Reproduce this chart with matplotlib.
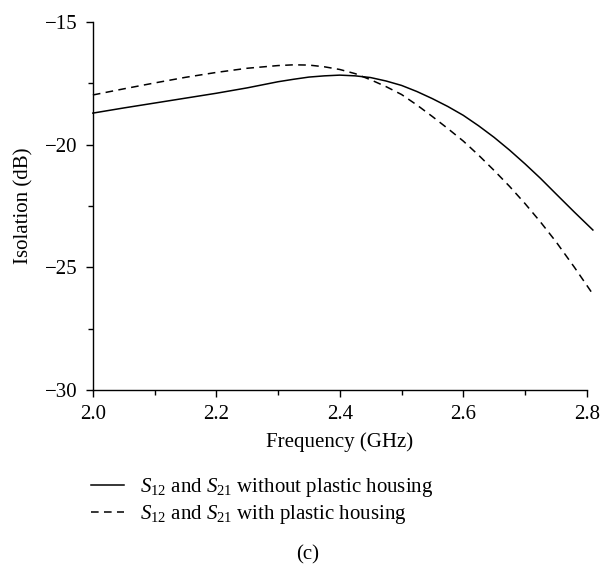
import matplotlib.pyplot as plt
from matplotlib.ticker import MultipleLocator
from matplotlib.lines import Line2D

plt.rcParams['font.family'] = ['Liberation Serif', 'DejaVu Serif']
plt.rcParams['mathtext.fontset'] = 'custom'
plt.rcParams['mathtext.rm'] = 'Liberation Serif'
plt.rcParams['mathtext.it'] = 'Liberation Serif:italic'

freq = [2.00, 2.05, 2.10, 2.15, 2.20, 2.25, 2.30, 2.325, 2.35, 2.375, 2.40, 2.425, 2.45,
        2.475, 2.50, 2.525, 2.55, 2.575, 2.60, 2.625, 2.65, 2.675, 2.70, 2.725, 2.75,
        2.78, 2.81]
# without plastic housing
s_without = [-18.71, -18.50, -18.30, -18.10, -17.90, -17.68, -17.43, -17.33, -17.24, -17.19,
             -17.16, -17.19, -17.26, -17.40, -17.58, -17.83, -18.12, -18.44, -18.80, -19.23,
             -19.70, -20.22, -20.78, -21.37, -22.00, -22.75, -23.48]
# with plastic housing
s_with = [-17.97, -17.72, -17.48, -17.25, -17.05, -16.88, -16.77, -16.74, -16.75, -16.82,
          -16.93, -17.10, -17.35, -17.63, -17.95, -18.38, -18.85, -19.34, -19.85, -20.43,
          -21.05, -21.70, -22.40, -23.15, -23.95, -25.00, -26.10]

labels = [r'$S_{12}$ and $S_{21}$ without plastic housing',
          r'$S_{12}$ and $S_{21}$ with plastic housing']

fs = 15

fig = plt.figure(figsize=(6.15, 5.69), dpi=100)
ax = fig.add_axes([0.151, 0.315, 0.803, 0.646])

ax.plot(freq, s_without, color='black', lw=1.1, clip_on=False)
ax.plot(freq, s_with, color='black', lw=1.1, dashes=(5, 3.5), clip_on=False)

ax.set_xlim(2.0, 2.8)
ax.set_ylim(-30, -15)
ax.xaxis.set_major_locator(MultipleLocator(0.2))
ax.xaxis.set_minor_locator(MultipleLocator(0.1))
ax.yaxis.set_major_locator(MultipleLocator(5))
ax.yaxis.set_minor_locator(MultipleLocator(2.5))
ax.xaxis.set_major_formatter(plt.FuncFormatter(lambda v, p: '%.1f' % v))
ax.yaxis.set_major_formatter(plt.FuncFormatter(lambda v, p: ('\u2212%d' % -v) if v < 0 else '%d' % v))

for s in ['top', 'right']:
    ax.spines[s].set_visible(False)
ax.spines['left'].set_linewidth(1.0)
ax.spines['bottom'].set_linewidth(1.0)
ax.tick_params(which='major', direction='out', length=5, width=1.0, labelsize=fs, pad=6)
ax.tick_params(which='minor', direction='out', length=3.5, width=1.0)

ax.set_xlabel('Frequency (GHz)', fontsize=fs, labelpad=6)
ax.set_ylabel('Isolation (dB)', fontsize=fs, labelpad=8)

handles = [Line2D([], [], color='black', lw=1.1),
           Line2D([], [], color='black', lw=1.1, dashes=(5, 3.5))]
fig.legend(handles, labels, loc='upper left', bbox_to_anchor=(0.148, 0.163),
           frameon=False, fontsize=fs, handlelength=1.6, handletextpad=0.75,
           labelspacing=0.2, borderpad=0, borderaxespad=0)

fig.text(0.5, 0.025, '(c)', ha='center', va='center', fontsize=fs)

fig.savefig('out.png', dpi=100)
